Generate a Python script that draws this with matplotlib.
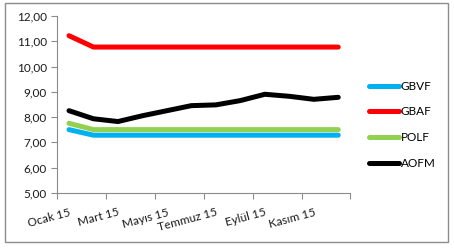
import matplotlib
matplotlib.use("Agg")
import matplotlib.pyplot as plt
from matplotlib.patches import Rectangle

months = ["Ocak 15", "Şubat 15", "Mart 15", "Nisan 15", "Mayıs 15", "Haziran 15",
          "Temmuz 15", "Ağustos 15", "Eylül 15", "Ekim 15", "Kasım 15", "Aralık 15"]
gbvf = [7.50, 7.28, 7.28, 7.28, 7.28, 7.28, 7.28, 7.28, 7.28, 7.28, 7.28, 7.28]
gbaf = [11.22, 10.77, 10.77, 10.77, 10.77, 10.77, 10.77, 10.77, 10.77, 10.77, 10.77, 10.77]
polf = [7.75, 7.50, 7.50, 7.50, 7.50, 7.50, 7.50, 7.50, 7.50, 7.50, 7.50, 7.50]
aofm = [8.25, 7.93, 7.82, 8.05, 8.25, 8.45, 8.48, 8.65, 8.90, 8.82, 8.70, 8.78]
series_names = ["GBVF", "GBAF", "POLF", "AOFM"]
colors = ["#00B0F0", "#FF0000", "#92D050", "#000000"]
yticks = [5, 6, 7, 8, 9, 10, 11, 12]

plt.rcParams['font.family'] = ['Lato', 'DejaVu Sans']
fig = plt.figure(figsize=(4.54, 2.50), dpi=100)
fig.patches.append(Rectangle((5/454, 1-242/250), 443/454, 239/250, transform=fig.transFigure,
                             fill=False, edgecolor='#8c8c8c', linewidth=1.0))
ax = fig.add_axes([0.125, 0.229, 0.647, 0.707])
x = list(range(len(months)))
for vals, name, c in zip([gbvf, gbaf, polf, aofm], series_names, colors):
    ax.plot(x, vals, color=c, linewidth=3.6, solid_capstyle='round', solid_joinstyle='round', label=name)

ax.set_xlim(-0.5, 11.5)
ax.set_ylim(5, 12)
ax.set_yticks(yticks)
ax.set_yticklabels([f"{v:.2f}".replace('.', ',') for v in yticks], fontsize=8.5, color='#1a1a1a')
ax.set_xticks([i - 0.5 for i in range(0, 13, 2)])
ax.set_xticklabels([])
ax.set_xticks(x[::2], minor=True)
ax.set_xticklabels(months[::2], minor=True, rotation=15, ha='right', rotation_mode='anchor', fontsize=8.5, color='#1a1a1a')
ax.tick_params(axis='x', which='minor', length=0, pad=10)
ax.tick_params(axis='x', which='major', length=4, color='#8c8c8c')
ax.tick_params(axis='y', length=4, color='#8c8c8c', pad=3)
for s in ['top', 'right']:
    ax.spines[s].set_visible(False)
for s in ['left', 'bottom']:
    ax.spines[s].set_color('#8c8c8c')

fig.legend(loc='upper left', bbox_to_anchor=(364/454, 1-76/250), frameon=False, fontsize=8.5,
           handlelength=2.6, handletextpad=0.1, labelspacing=1.25, borderaxespad=0)
fig.savefig("out.png", dpi=100)
